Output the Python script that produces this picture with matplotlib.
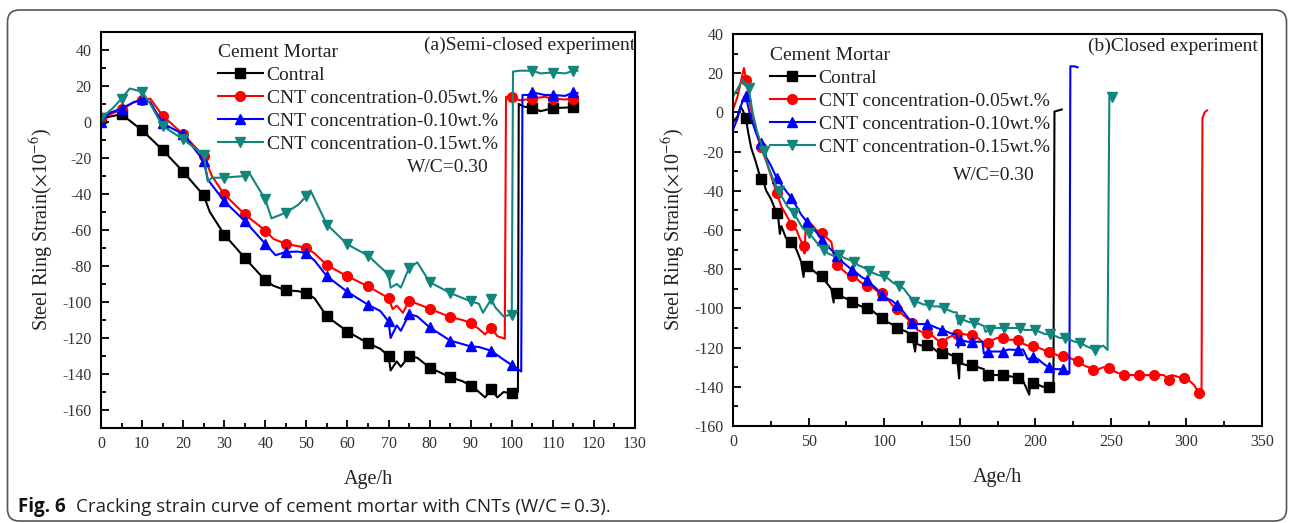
import matplotlib
matplotlib.use("Agg")
import matplotlib.pyplot as plt
from matplotlib.patches import FancyBboxPatch
from matplotlib.transforms import IdentityTransform
from matplotlib.ticker import MultipleLocator
from matplotlib.font_manager import FontProperties

plt.rcParams['font.family'] = 'serif'
plt.rcParams['font.serif'] = ['Liberation Serif', 'DejaVu Serif']
plt.rcParams['mathtext.fontset'] = 'stix'
plt.rcParams['axes.unicode_minus'] = False

# ---------------- data: (a) semi-closed experiment ----------------
a_ctrl_x = [0, 5, 10, 15, 20, 25, 26.5, 30, 35, 40, 42, 45, 48, 50, 52, 55, 60, 65, 68, 70, 70.5, 72, 73, 75, 77,
            80, 85, 88, 90, 92, 93.5, 95, 96.5, 98, 100, 101.5, 101.7, 103, 105, 107, 110, 113, 115, 116]
a_ctrl_y = [2, 4.3, -4.6, -15.5, -27.6, -40.8, -50, -62.5, -75.5, -88, -91, -93.5, -94, -95, -98, -108, -116.4,
            -122.9, -126, -130, -138, -133, -136, -130, -131, -136.4, -141.8, -144, -146.4, -150, -153, -148.5,
            -153, -150, -150.7, -150, 10, 8.5, 8, 6, 7.7, 8, 8.2, 9]

a_c05_x = [0, 2, 5, 8, 10, 12, 15, 20, 25, 27, 30, 35, 40, 42, 45, 48, 50, 52, 55, 60, 65, 70, 71, 72, 73.5, 75,
           77, 80, 85, 88, 90, 92, 93.5, 95, 96.5, 98.3, 98.6, 100, 102, 105, 108, 110, 113, 115, 116]
a_c05_y = [2, 4, 7, 11, 12, 13, 3.5, -6.8, -18.9, -30, -40.2, -51.3, -60.3, -65, -67.7, -69, -70, -73, -79.6,
           -85.7, -91.3, -97.8, -104, -102, -106, -99.3, -101, -103.7, -108.4, -110, -111.7, -115, -118, -114.5,
           -119, -120.4, 14, 14, 12, 13, 14, 13, 12.5, 13, 13.5]

a_c10_x = [0, 2, 5, 8, 10, 12, 15, 20, 25, 26, 30, 35, 40, 42.5, 45, 48, 50, 52, 55, 60, 65, 68, 70, 70.5, 72, 73,
           75, 77, 80, 85, 90, 92, 95, 98, 100, 102.3, 102.6, 104, 105, 108, 110, 113, 115, 116]
a_c10_y = [0, 5, 7.5, 11, 12.7, 11, -0.7, -6.8, -21.6, -32, -44, -55, -67.7, -74, -72.2, -72, -73, -77, -85.7,
           -94.4, -101.5, -105, -110.8, -120, -113, -116, -106.7, -108, -114.1, -121.4, -124.7, -125, -127.1,
           -132, -135, -138.6, 15, 15, 16.5, 15, 15, 14.5, 16.5, 16]

a_c15_x = [0, 3, 5, 7, 10, 12, 15, 20, 25, 26, 27, 30, 35, 36, 40, 41.5, 45, 48, 50, 51, 55, 60, 65, 70, 70.5, 72,
           73, 75, 77, 80, 85, 90, 92, 93, 95, 96, 98, 100, 100.3, 102, 105, 107, 110, 113, 115, 116]
a_c15_y = [2, 8, 13, 18.6, 16.8, 10, -2.2, -9.6, -18.3, -33, -31, -30.9, -30, -28, -43, -53.5, -50.4, -46,
           -41.2, -38, -57, -68, -74.2, -84.8, -92, -90, -92, -81, -78, -88.9, -95, -99.6, -101, -106, -98.3,
           -103, -108, -107, 28, 28.5, 28.5, 27, 27.5, 27, 28.5, 28.5]

a_mark_x = [0, 5, 10, 15, 20, 25, 30, 35, 40, 45, 50, 55, 60, 65, 70, 75, 80, 85, 90, 95, 100, 105, 110, 115]

# ---------------- data: (b) closed experiment ----------------
b_ctrl_x = [0, 3, 5, 6.5, 8.5, 10, 12, 15, 18.3, 20, 22, 25, 28.9, 30, 31, 32, 35, 38.7, 42, 45, 46.7, 47.2,
            48.8, 52, 55, 58.9, 62, 65, 66.6, 67, 68.7, 72, 75, 78.8, 82, 85, 88.6, 92, 95, 98.7, 102, 105,
            108.5, 112, 115, 118.6, 120.5, 121, 125, 128.4, 132, 135, 138.5, 142, 145, 148.3, 149.6, 150, 155,
            158.4, 162, 166, 166.9, 168.7, 172, 178.8, 182, 188.6, 192, 196, 196.5, 198.7, 202, 205, 208.8,
            212, 212.7, 217.5]
b_ctrl_y = [-5, -2, 3, 1, -2.9, -10, -18, -25, -33.9, -35, -40, -44, -51.4, -54, -62, -58, -64, -65.9, -70, -76,
            -84, -78, -78.6, -80, -82, -83.7, -87, -90, -97, -91, -92.3, -94, -95, -96.5, -98, -99, -99.9, -101,
            -103, -105, -107, -108, -110.1, -111, -112, -114.4, -122, -118, -119, -118.6, -120, -122, -122.9,
            -123, -124, -125.4, -135.7, -128, -129, -128.9, -130, -131, -137, -134, -134, -134, -134.5, -135.3,
            -137, -144, -139, -138.2, -139, -140, -139.9, -140, 0.4, 1.5]
b_ctrl_m = [8.5, 18.3, 28.9, 38.7, 48.8, 58.9, 68.7, 78.8, 88.6, 98.7, 108.5, 118.6, 128.4, 138.5, 148.3,
            158.4, 168.7, 178.8, 188.6, 198.7, 208.8]

b_c05_x = [0, 3, 5, 7.2, 8.8, 11, 14, 16, 18.3, 22, 25, 28.9, 32, 35, 38.7, 42, 44, 46.7, 47.3, 48, 50.1, 53,
           55, 58.9, 62, 65, 66.5, 68.7, 72, 75, 78.8, 82, 85, 88.6, 92, 95, 98.7, 102, 105, 108.5, 112, 115,
           118.6, 120, 122, 125, 128.4, 132, 135, 138.5, 142, 145, 148.3, 152, 155, 158.4, 162, 165, 168.7,
           172, 175, 178.8, 182, 185, 188.6, 192, 195, 198.7, 202, 205, 208.8, 212, 215, 218.6, 222, 225,
           228.4, 232, 235, 238.5, 242, 245, 248.6, 252, 255, 258.4, 262, 265, 268.5, 272, 275, 278.3, 282,
           285, 288.4, 290, 295, 298.2, 302, 305, 308.3, 310, 310.6, 312, 313.6]
b_c05_y = [1.4, 8, 15, 22.6, 16.7, 5, -5, -12, -17.4, -25, -32, -41.2, -48, -52, -57.4, -60, -64, -68.4, -72,
           -60, -55.7, -58, -60, -61.6, -64, -66, -72, -77.8, -80, -82, -83.4, -85, -87, -88.5, -89, -91, -92.3,
           -95, -98, -100.4, -103, -105, -107.6, -108, -111, -112, -112.7, -114, -116, -117.8, -115, -114,
           -113.2, -113, -113.5, -113.5, -115, -117, -117.8, -116, -115, -115.2, -116, -116, -116.1, -118,
           -119, -119.1, -120, -121, -122, -123, -124, -124.3, -125, -126, -126.8, -129, -130, -131.4, -131,
           -130, -130.6, -132, -133, -134, -134, -134, -134, -134, -134, -134, -134, -134, -136.5, -134, -135,
           -135.7, -137, -139, -143.3, -143, -3, 0, 1]
b_c05_m = [8.8, 18.3, 28.9, 38.7, 46.7, 58.9, 68.7, 78.8, 88.6, 98.7, 108.5, 118.6, 128.4, 138.5, 148.3, 158.4,
           168.7, 178.8, 188.6, 198.7, 208.8, 218.6, 228.4, 238.5, 248.6, 258.4, 268.5, 278.3, 288.4, 298.2,
           308.3]

b_c10_x = [0, 3, 5, 7.7, 8.5, 10, 12, 15, 18.3, 20, 22, 25, 28.9, 32, 35, 38.7, 42, 45, 48.8, 52, 55, 58.9, 62,
           65, 68.7, 72, 75, 78.8, 82, 85, 88.6, 92, 95, 98.7, 102, 105, 108.5, 112, 115, 118.6, 122, 125,
           128.4, 132, 135, 138.5, 142, 145, 148, 149, 150, 155, 158.4, 162, 165, 166, 168.7, 172, 178.8, 182,
           188.6, 192, 195, 198.7, 202, 205, 208.8, 212, 215, 218.6, 222.6, 223.2, 226, 228]
b_c10_y = [-8.9, -3, 3, 8.2, 8.2, 3, -3, -10, -15.7, -17, -23, -27, -33.5, -37, -40, -43.7, -48, -52, -55.7, -58,
           -61, -65, -68, -70, -73.5, -76, -78, -80.3, -82, -84, -85.4, -88, -90, -93.1, -95, -96, -98.2, -101,
           -104, -107.2, -108, -108, -107.9, -109, -110, -111, -112, -113, -113, -120, -116, -117, -116.9, -117,
           -117, -123, -122, -122, -122, -121, -121.2, -121, -126, -124.9, -126, -128, -130, -131, -131, -131,
           -133.1, 23.5, 23.5, 23]
b_c10_m = [8.5, 18.3, 28.9, 38.7, 48.8, 58.9, 68.7, 78.8, 88.6, 98.7, 108.5, 118.6, 128.4, 138.5, 150, 158.4,
           168.7, 178.8, 188.6, 198.7, 208.8, 218.6]

b_c15_x = [0, 3, 6.4, 8, 10.3, 13, 16, 20.4, 23, 26, 30.2, 33, 36, 40.3, 43, 46, 50.1, 53, 56, 60.2, 63, 66, 70,
           73, 76, 80.1, 83, 86, 89.9, 93, 96, 100, 103, 106, 110.1, 113, 116, 119.9, 123, 126, 130, 133, 136,
           139.8, 143, 146, 148, 149, 149.9, 153, 156, 159.7, 163, 166, 167, 169.8, 173, 176, 179.6, 183, 186,
           189.7, 193, 196, 199.5, 203, 206, 209.6, 213, 216, 219.4, 223, 226, 229.5, 233, 236, 239.3, 242,
           245, 247.8, 249, 250.5]
b_c15_y = [8, 12, 16.7, 14, 12.4, 0, -10, -19.9, -27, -33, -40.3, -44, -48, -51.4, -55, -59, -61.6, -64, -67,
           -70.1, -72, -73, -72.7, -74, -75, -76.1, -78, -79, -80.7, -82, -83, -83.7, -85, -87, -88.5, -90, -93,
           -96.5, -97, -98, -98.2, -99, -99, -99.9, -101, -102, -102, -108, -105.9, -106, -107, -107.2, -108,
           -109, -112, -111, -110, -110, -110.1, -110, -110, -110.1, -111, -111, -111, -112, -113, -113.2, -114,
           -115, -115.2, -116, -117, -117.4, -119, -120, -121.2, -120, -119, -121.2, 8, 8]
b_c15_m = [10.3, 20.4, 30.2, 40.3, 50.1, 60.2, 70, 80.1, 89.9, 100, 110.1, 119.9, 130, 139.8, 149.9, 159.7,
           169.8, 179.6, 189.7, 199.5, 209.6, 219.4, 229.5, 239.3, 250.5]

labels = ["Contral", "CNT concentration-0.05wt.%", "CNT concentration-0.10wt.%", "CNT concentration-0.15wt.%"]
colors = ["#000000", "#ff0000", "#0000ff", "#12857d"]
markers = ["s", "o", "^", "v"]

# ---------------- figure ----------------
W, H = 1289, 523
fig = plt.figure(figsize=(W / 100, H / 100), dpi=100)

frame = FancyBboxPatch((7.5, 2), 1279, 511, boxstyle="round,pad=0,rounding_size=12",
                       transform=IdentityTransform(), facecolor="none", edgecolor="#555555", lw=1.2,
                       zorder=-5)
fig.patches.append(frame)


def px_axes(x0, y0, x1, y1):
    return fig.add_axes([x0 / W, 1 - y1 / H, (x1 - x0) / W, (y1 - y0) / H])


def style(ax):
    for s in ax.spines.values():
        s.set_linewidth(1.5)
    ax.tick_params(which='both', direction='in', top=False, right=False, labelsize=11.5,
                   labelcolor='#333333', width=1.3, labelfontfamily='Liberation Serif')
    ax.tick_params(axis='y', pad=7)
    ax.tick_params(axis='x', pad=6)
    ax.tick_params(which='major', length=6)
    ax.tick_params(which='minor', length=3.5)
    ax.set_xlabel("Age/h", fontsize=14.5, color='#222222', labelpad=13, family='Liberation Serif')
    ax.set_ylabel(r"Steel Ring Strain($\times$10$^{-6}$)", fontsize=14.5, color='#222222', labelpad=4,
                  family='Liberation Serif')


def idx(xs, mx):
    return [i for i, v in enumerate(xs) if v in mx]


# panel (a)
ax1 = px_axes(101, 32, 635, 428)
series_a = [(a_ctrl_x, a_ctrl_y), (a_c05_x, a_c05_y), (a_c10_x, a_c10_y), (a_c15_x, a_c15_y)]
for (xs, ys), lab, c, m in zip(series_a, labels, colors, markers):
    ax1.plot(xs, ys, color=c, lw=1.5, marker=m, ms=7, markevery=idx(xs, a_mark_x), label=lab)
ax1.set_xlim(0, 130)
ax1.set_ylim(-170, 50)
ax1.xaxis.set_major_locator(MultipleLocator(10))
ax1.xaxis.set_minor_locator(MultipleLocator(5))
ax1.yaxis.set_major_locator(MultipleLocator(20))
ax1.yaxis.set_minor_locator(MultipleLocator(10))
ax1.set_yticks(list(range(-160, 41, 20)))
style(ax1)
ax1.text(1.0, 0.967, "(a)Semi-closed experiment", transform=ax1.transAxes, ha='right', va='center',
         fontsize=14, color='#222222', family='Liberation Serif')
ax1.text(0.65, 0.657, "W/C=0.30", transform=ax1.transAxes, ha='center', va='center', fontsize=14,
         color='#222222', family='Liberation Serif')

# panel (b)
ax2 = px_axes(733, 34, 1262, 426)
series_b = [(b_ctrl_x, b_ctrl_y, b_ctrl_m), (b_c05_x, b_c05_y, b_c05_m), (b_c10_x, b_c10_y, b_c10_m),
            (b_c15_x, b_c15_y, b_c15_m)]
for (xs, ys, mx), lab, c, m in zip(series_b, labels, colors, markers):
    ax2.plot(xs, ys, color=c, lw=1.5, marker=m, ms=7, markevery=idx(xs, mx), label=lab)
ax2.set_xlim(0, 350)
ax2.set_ylim(-160, 40)
ax2.xaxis.set_major_locator(MultipleLocator(50))
ax2.xaxis.set_minor_locator(MultipleLocator(25))
ax2.yaxis.set_major_locator(MultipleLocator(20))
ax2.yaxis.set_minor_locator(MultipleLocator(10))
style(ax2)
ax2.text(0.992, 0.969, "(b)Closed experiment", transform=ax2.transAxes, ha='right', va='center',
         fontsize=14, color='#222222', family='Liberation Serif')
ax2.text(0.493, 0.640, "W/C=0.30", transform=ax2.transAxes, ha='center', va='center', fontsize=14,
         color='#222222', family='Liberation Serif')

for ax, bx, by in ((ax1, 0.219, 0.970), (ax2, 0.070, 0.968)):
    leg = ax.legend(loc='upper left', bbox_to_anchor=(bx, by), frameon=False,
                    prop=FontProperties(family='Liberation Serif', size=14),
                    title="Cement Mortar",
                    title_fontproperties=FontProperties(family='Liberation Serif', size=14),
                    alignment='left', handlelength=2.3,
                    handletextpad=0.2, labelspacing=0.28, borderpad=0, borderaxespad=0)
    for t in leg.get_texts():
        t.set_color('#222222')
    leg.get_title().set_color('#222222')

# caption
cap_y = 1 - 507 / H
fam = ['Open Sans', 'DejaVu Sans']
t1 = fig.text(18 / W, cap_y, "Fig. 6", fontsize=13.5, fontweight='bold', family=fam,
              va='center', ha='left', color='#111111')
r = fig.canvas.get_renderer()
bb = t1.get_window_extent(renderer=r)
fig.text((bb.x1 + 10) / W, cap_y, "Cracking strain curve of cement mortar with CNTs (W/C\u2009=\u20090.3).",
         fontsize=13.5, family=fam, va='center', ha='left', color='#222222')

fig.savefig("out.png", dpi=100)
